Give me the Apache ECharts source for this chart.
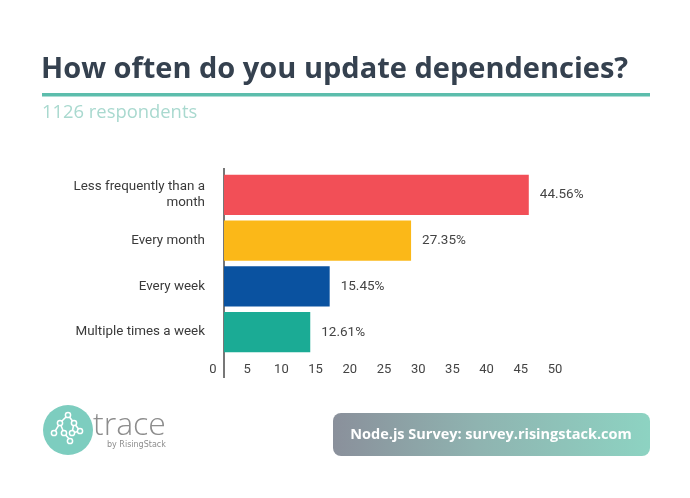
<!DOCTYPE html>
<html>
<head>
<meta charset="utf-8">
<script src="https://cdn.jsdelivr.net/npm/echarts@6/dist/echarts.min.js"></script>
<style>
html,body{margin:0;padding:0;background:#fff;}
#c{width:690px;height:498px;}
</style>
</head>
<body>
<div id="c"></div>
<script>
const categories = ['Less frequently than a\nmonth', 'Every month', 'Every week', 'Multiple times a week'];
const values = [44.56, 27.35, 15.45, 12.61];
const barColors = ['#f24f57', '#fbb818', '#0a52a0', '#1bab95'];
const xTicks = [0, 5, 10, 15, 20, 25, 30, 35, 40, 45, 50];

const chart = echarts.init(document.getElementById('c'));
chart.setOption({
  backgroundColor: '#fff',
  animation: false,
  grid: {left: 224, top: 172, width: 342, height: 183, containLabel: false},
  xAxis: {
    type: 'value', min: xTicks[0], max: xTicks[xTicks.length - 1], interval: 5,
    axisLine: {show: false}, axisTick: {show: false}, splitLine: {show: false},
    axisLabel: {
      color: '#444', fontSize: 13, fontFamily: 'Roboto', margin: 8,
      padding: [0, 22, 0, 0]
    }
  },
  yAxis: {
    type: 'category', data: categories, inverse: true,
    axisLine: {show: false}, axisTick: {show: false},
    axisLabel: {color: '#3a3a3a', fontSize: 13.4, fontFamily: 'Roboto', margin: 19, lineHeight: 16, align: 'right'}
  },
  series: [{
    type: 'bar',
    data: values.map((v, i) => ({value: v, itemStyle: {color: barColors[i]}})),
    barCategoryGap: '12%',
    label: {
      show: true, position: 'right', distance: 11,
      formatter: p => p.value.toFixed(2) + '%',
      color: '#444', fontSize: 13.5, fontFamily: 'Roboto'
    }
  }],
  graphic: [
    {type: 'text', left: 41, top: 55, style: {text: 'How often do you update dependencies?', fill: '#35414f', font: 'bold 29px "Open Sans"'}},
    {type: 'rect', shape: {x: 42, y: 93, width: 608, height: 3.5}, style: {fill: '#5cbdac'}},
    {type: 'text', left: 42, top: 104, style: {text: '1126 respondents', fill: '#a9d9cf', font: '18.4px "Open Sans"'}},
    {type: 'line', shape: {x1: 224, y1: 168, x2: 224, y2: 378}, style: {stroke: '#555', lineWidth: 1.6}},
    {type: 'circle', shape: {cx: 68, cy: 430, r: 25}, style: {fill: '#7dcdbf'}},
    {type: 'group', children: [
      {type: 'polyline', shape: {points: [[68,415],[60,423],[54,433]]}, style: {stroke: '#fff', fill: null, lineWidth: 1.5}},
      {type: 'polyline', shape: {points: [[68,415],[74,423],[80,431]]}, style: {stroke: '#fff', fill: null, lineWidth: 1.5}},
      {type: 'polyline', shape: {points: [[60,423],[64,433],[70,440]]}, style: {stroke: '#fff', fill: null, lineWidth: 1.5}},
      {type: 'polyline', shape: {points: [[74,423],[72,433],[80,431]]}, style: {stroke: '#fff', fill: null, lineWidth: 1.5}},
      {type: 'circle', shape: {cx: 68, cy: 415, r: 2.6}, style: {fill: '#7dcdbf', stroke: '#fff', lineWidth: 1.5}},
      {type: 'circle', shape: {cx: 60, cy: 423, r: 2.6}, style: {fill: '#7dcdbf', stroke: '#fff', lineWidth: 1.5}},
      {type: 'circle', shape: {cx: 74, cy: 423, r: 2.6}, style: {fill: '#7dcdbf', stroke: '#fff', lineWidth: 1.5}},
      {type: 'circle', shape: {cx: 54, cy: 433, r: 2.6}, style: {fill: '#7dcdbf', stroke: '#fff', lineWidth: 1.5}},
      {type: 'circle', shape: {cx: 64, cy: 433, r: 2.6}, style: {fill: '#7dcdbf', stroke: '#fff', lineWidth: 1.5}},
      {type: 'circle', shape: {cx: 80, cy: 431, r: 2.6}, style: {fill: '#7dcdbf', stroke: '#fff', lineWidth: 1.5}},
      {type: 'circle', shape: {cx: 72, cy: 433, r: 2.6}, style: {fill: '#7dcdbf', stroke: '#fff', lineWidth: 1.5}},
      {type: 'circle', shape: {cx: 70, cy: 441, r: 2.6}, style: {fill: '#7dcdbf', stroke: '#fff', lineWidth: 1.5}}
    ]},
    {type: 'text', left: 93, top: 410, style: {text: 'trace', fill: '#8d8d8d', font: '300 32px "Open Sans"'}},
    {type: 'text', left: 107, top: 441, style: {text: 'by RisingStack', fill: '#8d8d8d', font: '8px "DejaVu Sans"'}},
    {type: 'rect', shape: {x: 333, y: 413, width: 317, height: 43, r: 8},
      style: {fill: new echarts.graphic.LinearGradient(0, 0, 1, 0, [
        {offset: 0, color: '#8a909b'}, {offset: 0.45, color: '#8fb3b0'}, {offset: 1, color: '#8dd3c2'}
      ])}},
    {type: 'text', x: 491, y: 435, style: {text: 'Node.js Survey: survey.risingstack.com', fill: '#fff', font: 'bold 14.5px "Open Sans"', align: 'center', verticalAlign: 'middle'}}
  ]
});
</script>
</body>
</html>
